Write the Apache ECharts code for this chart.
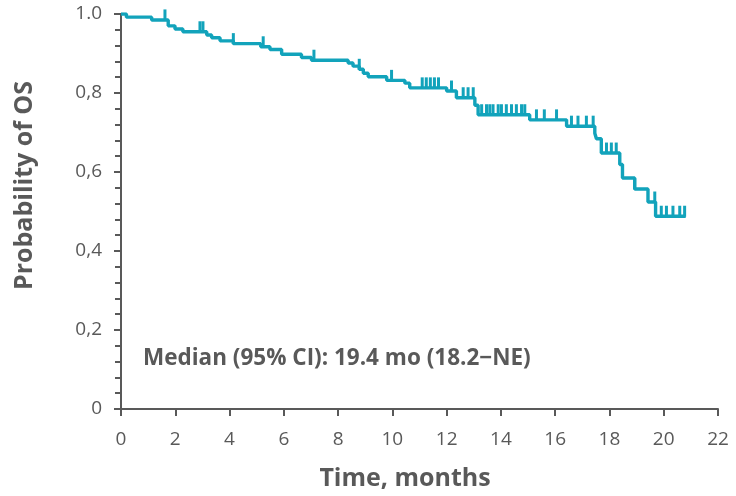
<!DOCTYPE html>
<html>
<head>
<meta charset="utf-8">
<script src="https://cdn.jsdelivr.net/npm/echarts@6/dist/echarts.min.js"></script>
<style>
  html, body { margin: 0; padding: 0; background: #fff; }
  #chart { width: 736px; height: 496px; }
</style>
</head>
<body>
<div id="chart"></div>
<script>
/**
 * KM curve, OS
 */
var stepTimes = [0, 0.2, 1.13, 1.74, 1.99, 2.28, 3.16, 3.34, 3.65, 4.14, 5.15, 5.49, 5.92, 6.65, 7.02,
  8.37, 8.55, 8.78, 8.93, 9.11, 9.79, 10.46, 10.64, 12.0, 12.36, 13.04, 13.16, 15.06, 16.42,
  17.46, 17.52, 17.7, 18.38, 18.48, 18.93, 19.42, 19.7, 20.81];
var stepSurv = [1.0, 0.992, 0.985, 0.970, 0.962, 0.955, 0.947, 0.940, 0.932, 0.925, 0.917, 0.910, 0.898, 0.890, 0.883,
  0.876, 0.868, 0.860, 0.850, 0.841, 0.832, 0.825, 0.813, 0.805, 0.788, 0.769, 0.745, 0.732, 0.716,
  0.698, 0.684, 0.648, 0.619, 0.585, 0.557, 0.524, 0.488, 0.488];

// censored patients (tick marks)
var censorTimes = [1.62, 2.91, 3.02, 4.14, 5.24, 7.11, 8.78, 9.97,
  11.1, 11.25, 11.4, 11.55, 11.7, 12.18, 12.61, 12.79, 12.98,
  13.29, 13.47, 13.59, 13.71, 13.9, 14.02, 14.2, 14.39, 14.57, 14.76, 14.88,
  15.31, 15.6, 16.05, 16.6, 16.84, 17.15, 17.4, 17.89, 18.07, 18.25,
  18.93, 19.67, 19.91, 20.1, 20.34, 20.59, 20.77];

var yTickLabels = {0: '0', 0.2: '0,2', 0.4: '0,4', 0.6: '0,6', 0.8: '0,8', 1: '1.0'};
var xTicks = [0, 2, 4, 6, 8, 10, 12, 14, 16, 18, 20, 22];
var medianText = 'Median (95% CI): 19.4 mo (18.2\u2212NE)';

var teal = '#12a3bb';
var grey = '#595959';
var font = '"Open Sans", sans-serif';

// survival at a time = last step at or before it
function survAt(t) {
  var s = stepSurv[0];
  for (var i = 0; i < stepTimes.length; i++) {
    if (stepTimes[i] <= t) s = stepSurv[i];
  }
  return s;
}

var lineData = stepTimes.map(function (t, i) { return [t, stepSurv[i]]; });
var censorData = censorTimes.map(function (t) { return [t, survAt(t)]; });

var myChart = echarts.init(document.getElementById('chart'));
myChart.setOption({
  animation: false,
  grid: { left: 121, right: 18, top: 14, bottom: 86 },
  xAxis: {
    type: 'value', min: xTicks[0], max: xTicks[xTicks.length - 1], interval: 2,
    name: 'Time, months', nameLocation: 'middle', nameGap: 57,
    nameTextStyle: { color: grey, fontSize: 25, fontWeight: 'bold', fontFamily: font, padding: [0, 29, 0, 0] },
    axisLine: { lineStyle: { color: grey, width: 2 } },
    axisTick: { show: true, length: 7, lineStyle: { color: grey, width: 2 } },
    axisLabel: { color: grey, fontSize: 19, fontFamily: font, margin: 21 },
    splitLine: { show: false }
  },
  yAxis: {
    type: 'value', min: 0, max: 1, interval: 0.2,
    name: 'Probability of OS', nameLocation: 'middle', nameGap: 84,
    nameTextStyle: { color: grey, fontSize: 25, fontWeight: 'bold', fontFamily: font, padding: [0, 0, 0, 52] },
    axisLine: { show: true, lineStyle: { color: grey, width: 2 } },
    axisTick: { show: true, length: 7, lineStyle: { color: grey, width: 2 } },
    minorTick: { show: true, splitNumber: 5, length: 6, lineStyle: { color: grey, width: 2 } },
    axisLabel: {
      color: grey, fontSize: 19, fontFamily: font, margin: 19,
      formatter: function (v) { return yTickLabels[Math.round(v * 10) / 10]; }
    },
    splitLine: { show: false }
  },
  graphic: [{
    type: 'text', x: 143, y: 359,
    style: { text: medianText, fill: grey, font: 'bold 22.5px ' + font, verticalAlign: 'middle' }
  }],
  series: [{
    type: 'line', step: 'end', data: lineData, showSymbol: false,
    lineStyle: { color: teal, width: 3.4 }
  }, {
    type: 'scatter', data: censorData, symbol: 'rect',
    symbolSize: [3, 11], symbolOffset: [0, -5],
    itemStyle: { color: teal, opacity: 1 }
  }]
});
</script>
</body>
</html>
